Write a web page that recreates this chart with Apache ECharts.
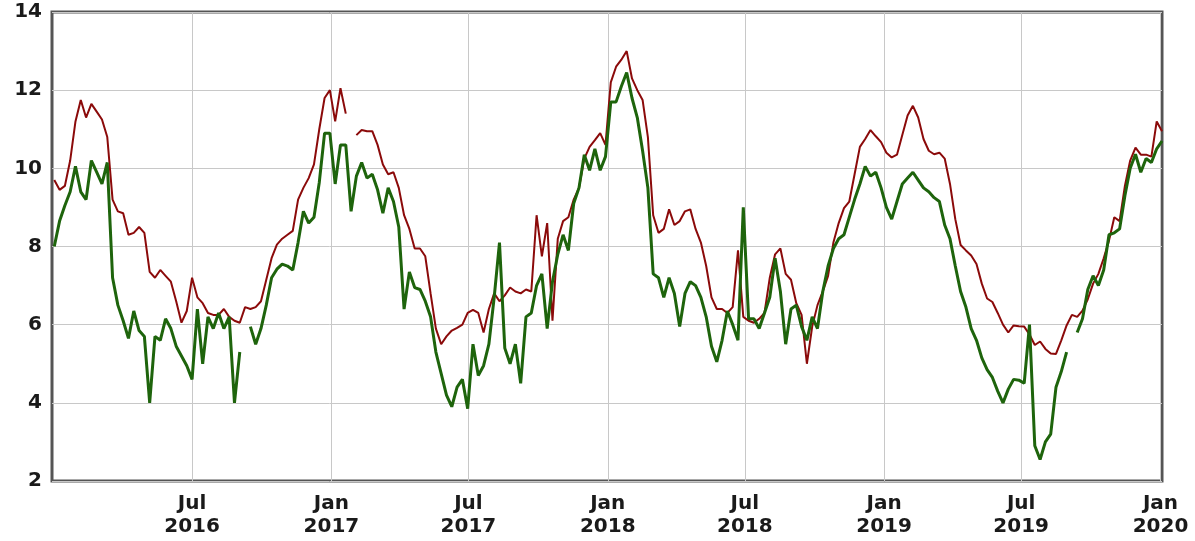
<!DOCTYPE html>
<html>
<head>
<meta charset="utf-8">
<script src="https://cdn.jsdelivr.net/npm/echarts@6/dist/echarts.min.js"></script>
<style>
  html, body { margin: 0; padding: 0; background: #ffffff; }
  #chart { width: 1195px; height: 541px; }
</style>
</head>
<body>
<div id="chart"></div>
<script>
// Weekly readings, first sample on this date, one value per week (null = no data)
const firstWeek = [2016, 1, 1];

// Upper (dark red) series
const upperSeries = [
  9.7, 9.45, 9.55, 10.2, 11.2, 11.75, 11.3, 11.65, 11.45, 11.25,
  10.8, 9.2, 8.9, 8.85, 8.3, 8.35, 8.5, 8.35, 7.35, 7.2,
  7.4, 7.25, 7.1, 6.6, 6.05, 6.35, 7.2, 6.7, 6.55, 6.3,
  6.25, 6.25, 6.4, 6.2, 6.1, 6.05, 6.45, 6.4, 6.45, 6.6,
  7.15, 7.7, 8.05, 8.2, 8.3, 8.4, 9.2, 9.5, 9.75, 10.1,
  11.0, 11.8, 12.0, 11.2, 12.05, 11.4, null, 10.85, 10.98, 10.95,
  10.95, 10.6, 10.1, 9.85, 9.9, 9.5, 8.8, 8.45, 7.95, 7.95,
  7.75, 6.8, 5.9, 5.5, 5.7, 5.85, 5.92, 6.0, 6.3, 6.38,
  6.3, 5.8, 6.4, 6.8, 6.6, 6.75, 6.95, 6.85, 6.8, 6.9,
  6.85, 8.8, 7.75, 8.6, 6.1, 8.2, 8.65, 8.75, 9.2, 9.5,
  10.25, 10.55, 10.72, 10.9, 10.6, 12.2, 12.6, 12.78, 13.0, 12.3,
  12.0, 11.75, 10.8, 8.8, 8.35, 8.45, 8.95, 8.55, 8.65, 8.9,
  8.95, 8.45, 8.1, 7.5, 6.7, 6.4, 6.4, 6.3, 6.45, 7.9,
  6.2, 6.1, 6.05, 6.15, 6.3, 7.2, 7.8, 7.95, 7.3, 7.15,
  6.55, 6.25, 5.0, 5.95, 6.5, 6.85, 7.25, 8.1, 8.6, 8.98,
  9.15, 9.85, 10.55, 10.75, 10.98, 10.82, 10.67, 10.4, 10.28, 10.35,
  10.85, 11.35, 11.6, 11.3, 10.75, 10.45, 10.36, 10.4, 10.25, 9.6,
  8.7, 8.04, 7.9, 7.77, 7.55, 7.05, 6.67, 6.58, 6.3, 6.0,
  5.8, 5.98, 5.96, 5.95, 5.75, 5.48, 5.57, 5.38, 5.26, 5.25,
  5.6, 5.98, 6.25, 6.2, 6.36, 6.65, 7.05, 7.3, 7.7, 8.15,
  8.75, 8.65, 9.55, 10.2, 10.53, 10.35, 10.35, 10.3, 11.2, 10.95
];

// Lower (green) series
const lowerSeries = [
  8.0, 8.65, 9.05, 9.4, 10.05, 9.4, 9.2, 10.2, 9.9, 9.6,
  10.15, 7.2, 6.5, 6.1, 5.65, 6.35, 5.85, 5.7, 4.0, 5.7,
  5.6, 6.15, 5.9, 5.45, 5.2, 4.95, 4.6, 6.4, 5.0, 6.2,
  5.9, 6.3, 5.9, 6.2, 4.0, 5.3, null, 5.95, 5.5, 5.9,
  6.5, 7.2, 7.42, 7.55, 7.5, 7.4, 8.1, 8.9, 8.6, 8.75,
  9.64, 10.9, 10.9, 9.6, 10.6, 10.6, 8.9, 9.8, 10.15, 9.75,
  9.85, 9.45, 8.85, 9.5, 9.15, 8.5, 6.4, 7.35, 6.95, 6.9,
  6.6, 6.2, 5.3, 4.75, 4.2, 3.9, 4.4, 4.6, 3.85, 5.5,
  4.7, 4.95, 5.5, 6.7, 8.1, 5.4, 5.0, 5.5, 4.5, 6.2,
  6.3, 7.0, 7.3, 5.9, 7.1, 7.8, 8.3, 7.9, 9.1, 9.5,
  10.35, 9.95, 10.5, 9.95, 10.3, 11.7, 11.7, 12.1, 12.45, 11.8,
  11.3, 10.45, 9.5, 7.3, 7.2, 6.7, 7.2, 6.8, 5.95, 6.8,
  7.1, 7.0, 6.7, 6.2, 5.45, 5.05, 5.6, 6.35, 6.0, 5.6,
  9.0, 6.15, 6.15, 5.9, 6.3, 6.7, 7.7, 6.85, 5.5, 6.4,
  6.5, 5.95, 5.6, 6.2, 5.9, 6.85, 7.5, 7.95, 8.2, 8.3,
  8.75, 9.2, 9.6, 10.05, 9.8, 9.9, 9.5, 9.0, 8.7, 9.15,
  9.6, 9.75, 9.9, 9.7, 9.5, 9.4, 9.25, 9.15, 8.55, 8.2,
  7.5, 6.85, 6.45, 5.9, 5.6, 5.15, 4.85, 4.65, 4.3, 4.0,
  4.35, 4.6, 4.58, 4.5, 6.0, 2.9, 2.55, 3.0, 3.2, 4.4,
  4.8, 5.3, null, 5.8, 6.15, 6.9, 7.25, 7.0, 7.4, 8.3,
  8.35, 8.45, 9.3, 10.0, 10.36, 9.9, 10.25, 10.15, 10.5, 10.7
];

// Half-year ticks on the date axis
const tickDates = [
  [2016, 7, 1], [2017, 1, 1], [2017, 7, 1], [2018, 1, 1],
  [2018, 7, 1], [2019, 1, 1], [2019, 7, 1], [2020, 1, 1]
];
const monthNames = ['Jan', 'Feb', 'Mar', 'Apr', 'May', 'Jun', 'Jul', 'Aug', 'Sep', 'Oct', 'Nov', 'Dec'];
const yTicks = { min: 2, max: 14, step: 2 };
const axisRange = [[2015, 12, 29], [2020, 1, 3]];

const toTime = (ymd) => new Date(ymd[0], ymd[1] - 1, ymd[2]).getTime();
const weekTime = (i) => new Date(firstWeek[0], firstWeek[1] - 1, firstWeek[2] + 7 * i).getTime();
const pairs = (values) => values.map((v, i) => [weekTime(i), v]);
const tickTimes = tickDates.map(toTime);

const labelFont = {
  fontFamily: 'DejaVu Sans, Verdana, sans-serif',
  fontWeight: 'bold',
  fontSize: 20,
  color: '#1a1a1a'
};

const chart = echarts.init(document.getElementById('chart'), null, { renderer: 'canvas' });
chart.setOption({
  backgroundColor: '#ffffff',
  animation: false,
  grid: {
    left: 52, right: 33, top: 12, bottom: 60,
    show: true,
    backgroundColor: '#ffffff',
    borderColor: '#555555',
    borderWidth: 3
  },
  xAxis: {
    type: 'value',
    min: toTime(axisRange[0]),
    max: toTime(axisRange[1]),
    axisLine: { show: false },
    axisTick: { show: false, customValues: tickTimes },
    splitLine: { show: true, lineStyle: { color: '#c8c8c8', width: 1 } },
    axisLabel: Object.assign({
      customValues: tickTimes,
      margin: 11,
      lineHeight: 23,
      align: 'center',
      formatter: (val) => {
        const d = new Date(val);
        return monthNames[d.getMonth()] + '\n' + d.getFullYear();
      }
    }, labelFont)
  },
  yAxis: {
    type: 'value',
    min: yTicks.min,
    max: yTicks.max,
    interval: yTicks.step,
    axisLine: { show: false },
    axisTick: { show: false },
    splitLine: { show: true, lineStyle: { color: '#c8c8c8', width: 1 } },
    axisLabel: Object.assign({ margin: 10 }, labelFont)
  },
  series: [
    {
      type: 'line',
      data: pairs(upperSeries),
      showSymbol: false,
      connectNulls: false,
      lineStyle: { color: '#8b0a0a', width: 2 },
      z: 2
    },
    {
      type: 'line',
      data: pairs(lowerSeries),
      showSymbol: false,
      connectNulls: false,
      lineStyle: { color: '#1e640c', width: 3 },
      z: 3
    }
  ]
});
</script>
</body>
</html>
